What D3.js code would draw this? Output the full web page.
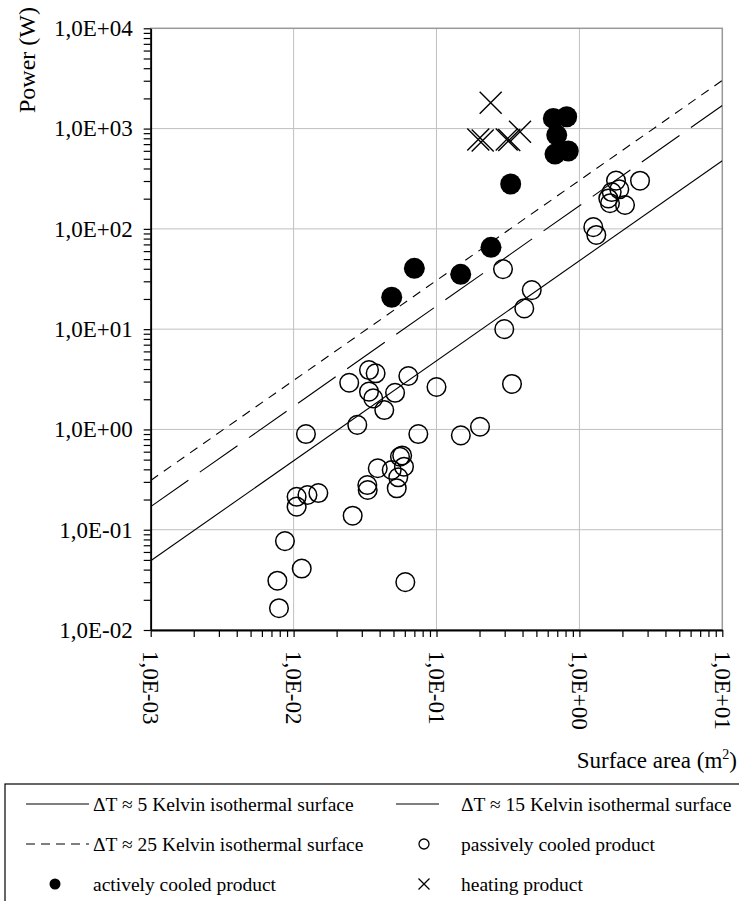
<!DOCTYPE html>
<html>
<head>
<meta charset="utf-8">
<script src="https://cdn.jsdelivr.net/npm/d3@7"></script>
<style>
  body { margin: 0; background: #fff; }
  svg { display: block; font-family: "Liberation Serif", "Times New Roman", serif; }
</style>
</head>
<body>
<svg id="chart" width="739" height="901"></svg>
<script>
// values: [surface area m2, power W]
const passive = [
  [0.0077, 0.031], [0.0079, 0.0165], [0.0087, 0.077], [0.0114, 0.041],
  [0.0105, 0.213], [0.0105, 0.17], [0.0125, 0.222], [0.0149, 0.232],
  [0.0122, 0.90], [0.0259, 0.138], [0.0279, 1.11], [0.0245, 2.92],
  [0.0337, 3.91], [0.0375, 3.63], [0.0337, 2.38], [0.0361, 2.04],
  [0.0431, 1.56], [0.0513, 2.32], [0.0635, 3.41], [0.0328, 0.279],
  [0.0330, 0.249], [0.0388, 0.41], [0.0486, 0.394], [0.0555, 0.534],
  [0.0592, 0.425], [0.054, 0.333], [0.0527, 0.259], [0.0575, 0.55],
  [0.0605, 0.030], [0.0746, 0.90], [0.100, 2.65], [0.148, 0.873],
  [0.2016, 1.064], [0.3375, 2.84], [0.298, 10.0], [0.4115, 16.1],
  [0.464, 24.5], [0.292, 39.7], [1.251, 104], [1.313, 87],
  [1.593, 201], [1.637, 180], [1.683, 233], [1.804, 303],
  [1.902, 248], [2.085, 173], [2.656, 302]
];

const active = [
  [0.0486, 20.8], [0.070, 40.4], [0.1477, 35.2], [0.2406, 65.4],
  [0.3305, 280], [0.657, 1264], [0.815, 1311], [0.694, 861],
  [0.675, 557], [0.836, 597]
];

const heating = [
  [0.2394, 1808], [0.196, 780], [0.2105, 760], [0.310, 780],
  [0.323, 768], [0.384, 929]
];

// isothermal lines, end points at the plot edges
const iso5 = [[0.001, 0.049], [10, 478]];
const iso15 = [[0.001, 0.17], [10, 1700]];
const iso25 = [[0.001, 0.31], [10, 3020]];

const xDecades = [1e-3, 1e-2, 1e-1, 1e0, 1e1];
const xTickLabels = ["1,0E-03", "1,0E-02", "1,0E-01", "1,0E+00", "1,0E+01"];
const yDecades = [1e-2, 1e-1, 1e0, 1e1, 1e2, 1e3, 1e4];
const yTickLabels = ["1,0E-02", "1,0E-01", "1,0E+00", "1,0E+01", "1,0E+02", "1,0E+03", "1,0E+04"];

const legendItems = [
  { label: "\u0394T \u2248 5 Kelvin isothermal surface", kind: "solid", col: 0, row: 0 },
  { label: "\u0394T \u2248 15 Kelvin isothermal surface", kind: "long", col: 1, row: 0 },
  { label: "\u0394T \u2248 25 Kelvin isothermal surface", kind: "short", col: 0, row: 1 },
  { label: "passively cooled product", kind: "open", col: 1, row: 1 },
  { label: "actively cooled product", kind: "filled", col: 0, row: 2 },
  { label: "heating product", kind: "cross", col: 1, row: 2 }
];

const svg = d3.select("#chart");
const plotLeft = 150.7, plotRight = 722.3, plotTop = 28.3, plotBottom = 630;

const x = d3.scaleLog().domain([1e-3, 10]).range([plotLeft, plotRight]);
const y = d3.scaleLog().domain([1e-2, 1e4]).range([plotBottom, plotTop]);

const decadeIndex = (d, list) => list.findIndex(v => Math.abs(Math.log10(v) - Math.log10(d)) < 1e-6);

// grid
const grid = svg.append("g").attr("stroke", "#c0c0c0").attr("stroke-width", 1);
grid.selectAll(".vg").data(xDecades.slice(1, -1)).enter().append("line")
  .attr("x1", d => x(d)).attr("x2", d => x(d))
  .attr("y1", plotTop).attr("y2", plotBottom);
grid.selectAll(".hg").data(yDecades.slice(1, -1)).enter().append("line")
  .attr("x1", plotLeft).attr("x2", plotRight)
  .attr("y1", d => y(d)).attr("y2", d => y(d));

// frame (top and right in grey)
svg.append("rect")
  .attr("x", plotLeft).attr("y", plotTop)
  .attr("width", plotRight - plotLeft).attr("height", plotBottom - plotTop)
  .attr("fill", "none").attr("stroke", "#999").attr("stroke-width", 1.5);

// isothermal lines
svg.append("clipPath").attr("id", "plot-clip").append("rect")
  .attr("x", plotLeft).attr("y", plotTop).attr("width", plotRight - plotLeft).attr("height", plotBottom - plotTop);

const line = d3.line().x(d => x(d[0])).y(d => y(d[1]));
const lines = svg.append("g").attr("clip-path", "url(#plot-clip)")
  .attr("fill", "none").attr("stroke", "#000").attr("stroke-width", 1.1);
lines.append("path").datum(iso5).attr("d", line);
lines.append("path").datum(iso15).attr("d", line).attr("stroke-dasharray", "46,14");
lines.append("path").datum(iso25).attr("d", line).attr("stroke-dasharray", "9,7");

// markers
svg.append("g").selectAll("circle").data(passive).enter().append("circle")
  .attr("cx", d => x(d[0])).attr("cy", d => y(d[1])).attr("r", 9.3)
  .attr("fill", "none").attr("stroke", "#000").attr("stroke-width", 1.5);

svg.append("g").selectAll("circle").data(active).enter().append("circle")
  .attr("cx", d => x(d[0])).attr("cy", d => y(d[1])).attr("r", 10.5)
  .attr("fill", "#000");

const crossPath = s => `M${-s},${-s}L${s},${s}M${-s},${s}L${s},${-s}`;
svg.append("g").selectAll("path").data(heating).enter().append("path")
  .attr("transform", d => `translate(${x(d[0])},${y(d[1])})`)
  .attr("d", crossPath(11))
  .attr("fill", "none").attr("stroke", "#000").attr("stroke-width", 1.4);

// axes
const xAxis = d3.axisBottom(x)
  .tickValues(x.ticks())
  .tickSize(7).tickSizeOuter(0)
  .tickFormat(d => { const i = decadeIndex(d, xDecades); return i < 0 ? "" : xTickLabels[i]; });

const gx = svg.append("g").attr("transform", `translate(0,${plotBottom})`).call(xAxis);
gx.selectAll("text")
  .attr("transform", "rotate(90)")
  .attr("x", 21).attr("y", 0).attr("dy", "0.35em")
  .style("text-anchor", "start");

const yAxis = d3.axisLeft(y)
  .tickValues(y.ticks())
  .tickSize(7).tickSizeOuter(0).tickPadding(11)
  .tickFormat(d => { const i = decadeIndex(d, yDecades); return i < 0 ? "" : yTickLabels[i]; });

const gy = svg.append("g").attr("transform", `translate(${plotLeft},0)`).call(yAxis);

[gx, gy].forEach(g => {
  g.attr("font-family", null);
  g.select(".domain").attr("stroke", "#000").attr("stroke-width", 1.8);
  g.selectAll(".tick line").attr("stroke", "#000").attr("stroke-width", 1.2);
  g.selectAll("text").attr("fill", "#000")
    .style("font-family", "'Liberation Serif', serif").style("font-size", "23px");
});

// axis titles
svg.append("text")
  .attr("transform", "translate(35,60) rotate(-90)")
  .style("text-anchor", "middle").style("font-size", "24px")
  .text("Power (W)");

const xt = svg.append("text")
  .attr("x", 737).attr("y", 768)
  .style("text-anchor", "end").style("font-size", "23px");
xt.append("tspan").text("Surface area (m");
xt.append("tspan").attr("dy", -9).style("font-size", "14px").text("2");
xt.append("tspan").attr("dy", 9).text(")");

// legend
svg.append("rect")
  .attr("x", 5).attr("y", 784).attr("width", 760).attr("height", 140)
  .attr("fill", "none").attr("stroke", "#000").attr("stroke-width", 1.2);

const rowY = [804, 844, 884];
const colX = [
  { line0: 26, line1: 89, mark: 55, text: 93 },
  { line0: 396, line1: 439, mark: 424, text: 461 }
];

const leg = svg.append("g").selectAll("g").data(legendItems).enter().append("g")
  .attr("transform", d => `translate(0,${rowY[d.row]})`);

leg.each(function(d) {
  const g = d3.select(this);
  const c = colX[d.col];
  if (d.kind === "solid" || d.kind === "long" || d.kind === "short") {
    g.append("line")
      .attr("x1", c.line0).attr("x2", c.line1)
      .attr("stroke", "#000").attr("stroke-width", 1.1)
      .attr("stroke-dasharray", d.kind === "short" ? "9,6" : null);
  } else if (d.kind === "open") {
    g.append("circle").attr("cx", c.mark).attr("r", 5)
      .attr("fill", "none").attr("stroke", "#000").attr("stroke-width", 1.3);
  } else if (d.kind === "filled") {
    g.append("circle").attr("cx", c.mark).attr("r", 5.5).attr("fill", "#000");
  } else {
    g.append("path").attr("transform", `translate(${c.mark},0)`)
      .attr("d", crossPath(5.5)).attr("stroke", "#000").attr("stroke-width", 1.3);
  }
  g.append("text")
    .attr("x", c.text).attr("dy", "0.35em")
    .style("font-size", "19.5px")
    .text(d.label);
});
</script>
</body>
</html>
